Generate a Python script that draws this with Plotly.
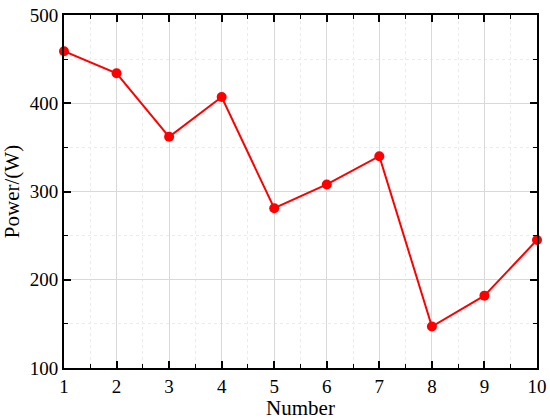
import plotly.graph_objects as go

numbers = [1, 2, 3, 4, 5, 6, 7, 8, 9, 10]
power = [459, 434, 362, 407, 281, 308, 340, 147, 182, 245]

fig = go.Figure()
fig.add_trace(go.Scatter(
    x=numbers, y=power, mode="lines+markers",
    line=dict(color="#ff0000", width=2),
    marker=dict(color="#ff0000", size=10),
    showlegend=False, cliponaxis=False,
))

font_family = "Liberation Serif"
axis_common = dict(
    showline=True, linecolor="black", linewidth=1.8, mirror="allticks",
    ticks="inside", ticklen=7, tickwidth=1.5, tickcolor="black",
    showgrid=True, gridcolor="#d9d9d9", gridwidth=1,
    zeroline=False, automargin=False,
    tickfont=dict(family=font_family, size=19, color="black"),
)

fig.update_xaxes(
    range=[1, 10], tickmode="array", tickvals=numbers,
    minor=dict(ticks="inside", ticklen=4, tickwidth=1.2, tickcolor="black",
               dtick=0.5, tick0=1, showgrid=True, gridcolor="#ebebeb", griddash="dot", gridwidth=1),
    title=dict(text="Number", font=dict(family=font_family, size=21, color="black"), standoff=0),
    **axis_common,
)
fig.update_yaxes(
    range=[100, 500], tickmode="array", tickvals=[100, 200, 300, 400, 500],
    minor=dict(ticks="inside", ticklen=4, tickwidth=1.2, tickcolor="black",
               dtick=50, tick0=100, showgrid=True, gridcolor="#ebebeb", griddash="dot", gridwidth=1),
    title=dict(text="Power/(W)", font=dict(family=font_family, size=21, color="black"), standoff=6),
    **axis_common,
)

fig.update_layout(
    width=550, height=420,
    margin=dict(l=64, r=13, t=15, b=52),
    paper_bgcolor="white", plot_bgcolor="white",
)

fig.write_html("out.html", config={"displayModeBar": False},
               post_script="document.body.style.margin='0';")
